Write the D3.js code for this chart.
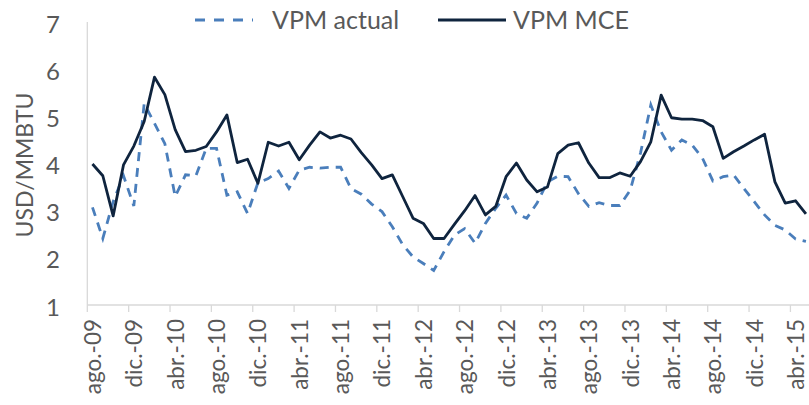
<!DOCTYPE html>
<html><head><meta charset="utf-8">
<script src="https://cdn.jsdelivr.net/npm/d3@7"></script>
<style>
html,body{margin:0;padding:0;background:#fff;}
svg{display:block;}
text{font-family:Lato,"Open Sans",sans-serif;fill:#595959;}
</style></head>
<body><svg id="c" width="809" height="405"></svg>
<script>
const categories = [
"ago.-09","sept.-09","oct.-09","nov.-09","dic.-09",
"ene.-10","feb.-10","mar.-10","abr.-10","may.-10","jun.-10","jul.-10","ago.-10","sept.-10","oct.-10","nov.-10","dic.-10",
"ene.-11","feb.-11","mar.-11","abr.-11","may.-11","jun.-11","jul.-11","ago.-11","sept.-11","oct.-11","nov.-11","dic.-11",
"ene.-12","feb.-12","mar.-12","abr.-12","may.-12","jun.-12","jul.-12","ago.-12","sept.-12","oct.-12","nov.-12","dic.-12",
"ene.-13","feb.-13","mar.-13","abr.-13","may.-13","jun.-13","jul.-13","ago.-13","sept.-13","oct.-13","nov.-13","dic.-13",
"ene.-14","feb.-14","mar.-14","abr.-14","may.-14","jun.-14","jul.-14","ago.-14","sept.-14","oct.-14","nov.-14","dic.-14",
"ene.-15","feb.-15","mar.-15","abr.-15","may.-15"];
const tickLabels = ["ago.-09","dic.-09","abr.-10","ago.-10","dic.-10","abr.-11","ago.-11","dic.-11","abr.-12","ago.-12","dic.-12","abr.-13","ago.-13","dic.-13","abr.-14","ago.-14","dic.-14","abr.-15"];
const vpmActual = [3.07,2.41,3.19,3.74,3.10,5.27,4.85,4.42,3.30,3.76,3.74,4.32,4.32,3.33,3.40,2.94,3.59,3.68,3.84,3.47,3.86,3.92,3.90,3.92,3.92,3.47,3.35,3.14,2.98,2.66,2.28,2.02,1.88,1.73,2.13,2.48,2.62,2.31,2.73,3.05,3.33,2.94,2.84,3.16,3.61,3.73,3.72,3.36,3.09,3.17,3.11,3.11,3.43,4.22,5.24,4.67,4.28,4.50,4.39,4.11,3.63,3.72,3.76,3.47,3.19,2.91,2.69,2.59,2.40,2.35];
const vpmMCE = [3.99,3.74,2.89,3.97,4.37,4.89,5.83,5.46,4.72,4.25,4.28,4.36,4.67,5.03,4.02,4.09,3.58,4.45,4.37,4.45,4.08,4.39,4.67,4.54,4.60,4.52,4.23,3.97,3.68,3.76,3.30,2.84,2.73,2.41,2.41,2.71,3.00,3.32,2.91,3.09,3.72,4.01,3.65,3.40,3.50,4.21,4.39,4.44,4.01,3.70,3.70,3.80,3.73,4.04,4.46,5.45,4.97,4.94,4.94,4.91,4.78,4.11,4.25,4.37,4.50,4.62,3.61,3.16,3.21,2.93];
const yTicks = [1,2,3,4,5,6,7];
const seriesNames = ["VPM actual","VPM MCE"];

const svg = d3.select("#c");
const mLeft = 87.3, mRight = 811.1, mTop = 22, mBottom = 305;
const x = d3.scaleBand().domain(categories).range([mLeft, mRight]);
const y = d3.scaleLinear().domain([1,7]).range([mBottom, mTop]);
const cx = d => x(d) + x.bandwidth()/2;

svg.append("line").attr("x1",mLeft).attr("x2",mLeft).attr("y1",mTop).attr("y2",mBottom)
  .attr("stroke","#d9d9d9").attr("stroke-width",1.3);
svg.append("line").attr("x1",mLeft).attr("x2",809).attr("y1",mBottom).attr("y2",mBottom)
  .attr("stroke","#d9d9d9").attr("stroke-width",1.3);
const tickCats = categories.filter((c,i)=> i%4===0);
svg.selectAll("line.xt").data(tickCats).enter().append("line")
  .attr("x1",d=>x(d)).attr("x2",d=>x(d)).attr("y1",mBottom).attr("y2",mBottom+7)
  .attr("stroke","#d9d9d9").attr("stroke-width",1.3);
svg.selectAll("text.xl").data(tickLabels).enter().append("text")
  .attr("transform",d=>`translate(${cx(d)},${mBottom+14}) rotate(-90)`)
  .attr("text-anchor","end").attr("dominant-baseline","central")
  .style("font-size","22.5px").text(d=>d);
svg.selectAll("text.yl").data(yTicks).enter().append("text")
  .attr("x",60).attr("y",d=>y(d)+1).attr("text-anchor","end").attr("dominant-baseline","central")
  .style("font-size","24px").text(d=>d);
svg.append("text").attr("transform","translate(24,165) rotate(-90)")
  .attr("text-anchor","middle").attr("dominant-baseline","central")
  .style("font-size","23px").text("USD/MMBTU");

const line = d3.line().x((d,i)=>cx(categories[i])).y(d=>y(d));
svg.append("path").datum(vpmActual).attr("d",line).attr("fill","none")
  .attr("stroke","#4a7ebb").attr("stroke-width",2.8).attr("stroke-dasharray","9,7");
svg.append("path").datum(vpmMCE).attr("d",line).attr("fill","none")
  .attr("stroke","#0f243e").attr("stroke-width",2.8).attr("stroke-linejoin","round");

const lg = svg.append("g");
lg.append("line").attr("x1",195).attr("x2",253).attr("y1",20).attr("y2",20)
  .attr("stroke","#4a7ebb").attr("stroke-width",2.8).attr("stroke-dasharray","10,9");
lg.append("text").attr("x",272).attr("y",28.5).style("font-size","25px").text(seriesNames[0]);
lg.append("line").attr("x1",438).attr("x2",506).attr("y1",20).attr("y2",20)
  .attr("stroke","#0f243e").attr("stroke-width",2.8);
lg.append("text").attr("x",513).attr("y",28.5).style("font-size","25px").text(seriesNames[1]);
</script></body></html>
